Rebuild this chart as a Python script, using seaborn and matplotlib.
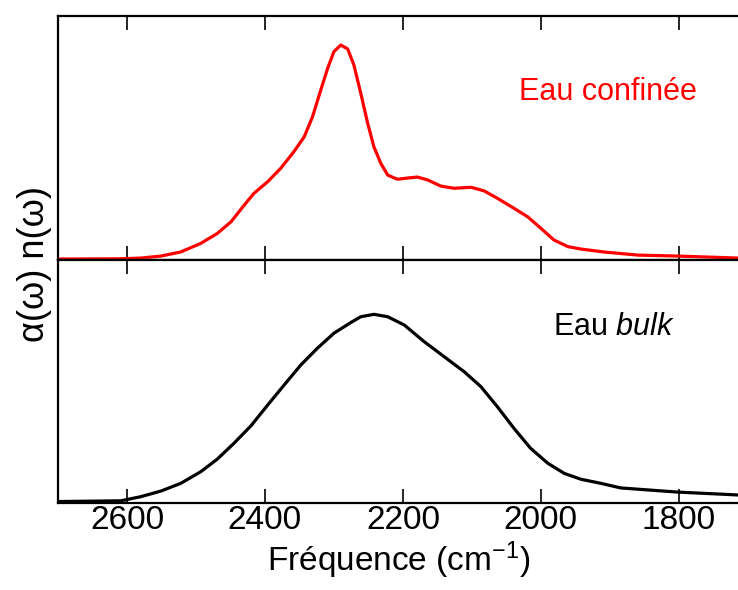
import matplotlib
matplotlib.use("Agg")
import matplotlib.pyplot as plt
import seaborn as sns
import pandas as pd

# ---- data ----
freq_confined = [2699, 2609, 2580, 2551, 2522, 2493, 2469, 2449, 2430, 2416, 2396, 2377,
                 2358, 2343, 2331, 2319, 2309, 2300, 2290, 2280, 2271, 2261, 2251, 2242,
                 2232, 2222, 2208, 2193, 2179, 2164, 2145, 2126, 2101, 2082, 2063, 2039,
                 2019, 2000, 1981, 1961, 1942, 1909, 1859, 1800, 1714]
alpha_confined = [0.004, 0.005, 0.008, 0.016, 0.033, 0.068, 0.109, 0.157, 0.225, 0.273, 0.321, 0.376,
                  0.444, 0.505, 0.587, 0.697, 0.786, 0.854, 0.881, 0.865, 0.799, 0.683, 0.560, 0.464,
                  0.396, 0.348, 0.331, 0.336, 0.340, 0.328, 0.303, 0.294, 0.298, 0.283, 0.253, 0.212,
                  0.177, 0.130, 0.082, 0.055, 0.045, 0.033, 0.020, 0.016, 0.008]

freq_bulk = [2699, 2609, 2580, 2551, 2522, 2493, 2469, 2445, 2420, 2396, 2372, 2348,
             2324, 2300, 2275, 2261, 2242, 2222, 2198, 2169, 2140, 2111, 2087, 2063,
             2039, 2015, 1990, 1966, 1942, 1913, 1884, 1802, 1714]
alpha_bulk = [0.004, 0.007, 0.024, 0.047, 0.079, 0.127, 0.179, 0.244, 0.317, 0.402, 0.485, 0.567,
              0.636, 0.698, 0.743, 0.766, 0.776, 0.766, 0.732, 0.663, 0.601, 0.539, 0.478, 0.395,
              0.306, 0.224, 0.162, 0.120, 0.096, 0.079, 0.060, 0.043, 0.031]

xticks = [2600, 2400, 2200, 2000, 1800]
label_confined = "Eau confinée"
label_bulk = r"Eau $\mathit{bulk}$"
xlabel = r"Fréquence (cm$^{-1}$)"
ylabel = "α(ω) n(ω)"

sns.set_theme(style="white")
plt.rcParams["font.family"] = ["Liberation Sans", "DejaVu Sans"]
plt.rcParams["mathtext.fontset"] = "custom"
plt.rcParams["mathtext.rm"] = "Liberation Sans"
plt.rcParams["mathtext.it"] = "Liberation Sans:italic"
plt.rcParams["mathtext.default"] = "rm"
plt.rcParams["text.color"] = "black"
plt.rcParams["axes.labelcolor"] = "black"
plt.rcParams["lines.solid_joinstyle"] = "round"

df_c = pd.DataFrame({"freq": freq_confined, "alpha": alpha_confined})
df_b = pd.DataFrame({"freq": freq_bulk, "alpha": alpha_bulk})

fig = plt.figure(figsize=(7.38, 5.90), dpi=100)
left, right = 58 / 738, 1.002
ax_top = fig.add_axes([left, 1 - 260 / 590, right - left, (260 - 16) / 590])
ax_bot = fig.add_axes([left, 1 - 502.5 / 590, right - left, (502.5 - 260) / 590])

sns.lineplot(data=df_c, x="freq", y="alpha", ax=ax_top, color="#ff0000", lw=2.3,
             estimator=None, sort=False)
sns.lineplot(data=df_b, x="freq", y="alpha", ax=ax_bot, color="black", lw=2.3,
             estimator=None, sort=False)

for ax in (ax_top, ax_bot):
    ax.set_xlim(2700, 1712)
    ax.set_ylim(0, 1)
    ax.set_xticks(xticks)
    ax.set_yticks([])
    ax.set_xlabel("")
    ax.set_ylabel("")
    for s in ax.spines.values():
        s.set_linewidth(1.6)
        s.set_color("black")
    ax.tick_params(axis="x", direction="in", length=10, width=1.2, color="black",
                   top=True, bottom=True, labelsize=24, pad=2, labelcolor="black")

ax_top.tick_params(axis="x", labelbottom=False)
ax_bot.set_xlabel(xlabel, fontsize=24, labelpad=2, color="black")

ax_top.text(0.938, 0.69, label_confined, transform=ax_top.transAxes, color="#ff0000",
            fontsize=22, ha="right", va="center")
ax_bot.text(0.905, 0.725, label_bulk, transform=ax_bot.transAxes, color="black",
            fontsize=22, ha="right", va="center")

fig.text(35 / 738, 1 - 264 / 590, ylabel, rotation=90, fontsize=26,
         ha="center", va="center", color="black")

fig.savefig("out.png", dpi=100)
